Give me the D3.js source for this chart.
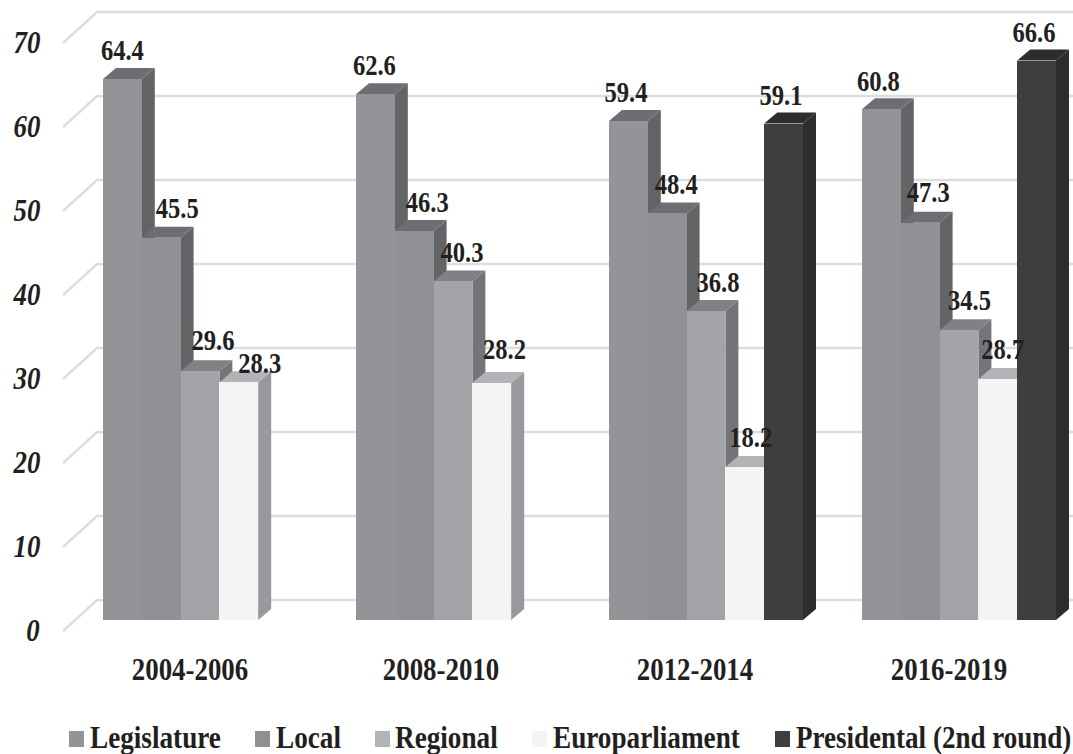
<!DOCTYPE html>
<html>
<head>
<meta charset="utf-8">
<script src="https://cdn.jsdelivr.net/npm/d3@7"></script>
<style>
html,body{margin:0;padding:0;background:#fff;overflow:hidden}
svg{display:block}
text{font-family:"Liberation Serif",serif;font-weight:700;fill:#231f20}
</style>
</head>
<body>
<svg id="chart" width="1073" height="754"></svg>
<script>
const periods = ["2004-2006", "2008-2010", "2012-2014", "2016-2019"];
const seriesNames = ["Legislature", "Local", "Regional", "Europarliament", "Presidental (2nd round)"];
const legislature = [64.4, 62.6, 59.4, 60.8];
const local = [45.5, 46.3, 48.4, 47.3];
const regional = [29.6, 40.3, 36.8, 34.5];
const europarliament = [28.3, 28.2, 18.2, 28.7];
const presidential = [null, null, 59.1, 66.6];
const seriesValues = [legislature, local, regional, europarliament, presidential];
const axisTicks = [0, 10, 20, 30, 40, 50, 60, 70];

// Face colours per series: front, top, side
const faces = [
  ["#939497", "#6d6e71", "#636466"],
  ["#909194", "#6d6e71", "#636466"],
  ["#a3a4a7", "#808184", "#747578"],
  ["#f3f5f4", "#b1b3b6", "#98999c"],
  ["#3e3e3e", "#2e2d2d", "#2e2d2d"]
];
const swatchColours = ["#939497", "#8f9093", "#b1b3b6", "#f3f5f4", "#3e3e3e"];

// Hand placement of value labels relative to the top centre of each bar's front face
const labelNudge = [
  [[0, -19], [16, -20], [13, -21], [21, -9]],
  [[-1, -19], [13, -19], [9, -19.5], [12.7, -24]],
  [[-2.4, -19], [9, -19], [12, -19], [6, -20]],
  [[-3, -18], [8, -21], [10.5, -20], [5, -20]]
];
const presidentialNudge = [null, null, [-2.6, -19], [-2.6, -19]];

const depthX = 13, depthY = 11;
const svg = d3.select("#chart");

const x0 = d3.scaleBand().domain(periods).range([103, 1056]).paddingInner(0.2332).paddingOuter(0);
const x1 = d3.scaleBand().domain(seriesNames).range([0, x0.bandwidth()]);
const y = d3.scaleLinear().domain([0, 70]).range([620, 32]);

function squeezed(sel, px, py, sx) {
  return sel.attr("transform", `translate(${px},${py}) scale(${sx},1)`);
}

// Wall gridlines with the short diagonal running across the floor
const grid = svg.append("g").attr("fill", "none").attr("stroke", "#dcdddd").attr("stroke-width", 2.4);
grid.selectAll("path").data(axisTicks).join("path")
  .attr("d", d => `M63,${y(d) + 11}L97,${y(d) - 20}L1073,${y(d) - 20}`);

// Axis numbers
const tickLabels = svg.append("g");
axisTicks.forEach(t => {
  squeezed(tickLabels.append("text"), t === 0 ? 33 : 27, y(t) + 21, 0.84)
    .attr("text-anchor", "middle").attr("font-size", 32).attr("font-style", "italic").text(t);
});

// Bars go left to right so each front face hides its neighbour's side
const bars = svg.append("g");
periods.forEach((period, g) => {
  seriesNames.forEach((name, s) => {
    const v = seriesValues[s][g];
    if (v === null) return;
    const left = x0(period) + x1(name), w = x1.bandwidth(), base = y(0), top = y(v);
    const [front, roof, side] = faces[s];
    bars.append("path").attr("fill", side)
      .attr("d", `M${left + w},${top}L${left + w + depthX},${top - depthY}L${left + w + depthX},${base - depthY}L${left + w},${base}Z`);
    bars.append("path").attr("fill", roof)
      .attr("d", `M${left},${top}L${left + depthX},${top - depthY}L${left + w + depthX},${top - depthY}L${left + w},${top}Z`);
    bars.append("rect").attr("fill", front).attr("shape-rendering", "crispEdges")
      .attr("x", left).attr("y", top).attr("width", w).attr("height", base - top);
  });
});

// Value labels sit above everything else
const values = svg.append("g");
periods.forEach((period, g) => {
  seriesNames.forEach((name, s) => {
    const v = seriesValues[s][g];
    if (v === null) return;
    const nudge = s === 4 ? presidentialNudge[g] : labelNudge[g][s];
    const cx = x0(period) + x1(name) + x1.bandwidth() / 2 + nudge[0];
    squeezed(values.append("text"), cx, y(v) + nudge[1], 0.82)
      .attr("text-anchor", "middle").attr("font-size", 30).text(v.toFixed(1));
  });
});

// Period labels under the groups
const groupCentres = [190, 441, 695, 949];
periods.forEach((p, i) => {
  squeezed(svg.append("text"), groupCentres[i], 680, 0.84)
    .attr("text-anchor", "middle").attr("font-size", 32).text(p);
});

// Legend row
const legendSwatchX = [69, 255, 375, 532, 775];
const legendTextX = [90, 276, 395, 553, 796];
const legendStretch = [0.85, 0.85, 0.85, 0.85, 0.845];
const legend = svg.append("g");
seriesNames.forEach((name, i) => {
  legend.append("rect").attr("x", legendSwatchX[i]).attr("y", 731)
    .attr("width", 15).attr("height", 16).attr("fill", swatchColours[i]);
  squeezed(legend.append("text"), legendTextX[i], 748, legendStretch[i])
    .attr("font-size", 32).text(name);
});
</script>
</body>
</html>
